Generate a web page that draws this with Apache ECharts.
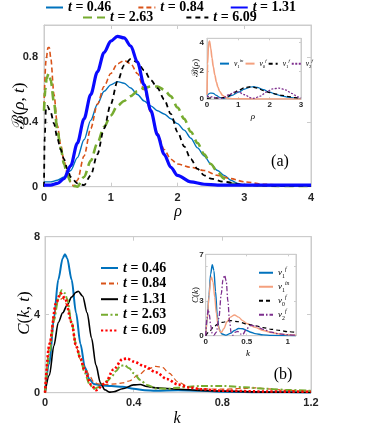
<!DOCTYPE html>
<html><head><meta charset="utf-8">
<script src="https://cdn.jsdelivr.net/npm/echarts@6/dist/echarts.min.js"></script>
<style>html,body{margin:0;padding:0;background:#fff}#c{width:390px;height:428px}</style>
</head><body><div id="c"></div>
<script>
// ---------- Panel (a): B(rho,t) ----------
const aX046 = [0,0.1,0.2,0.3,0.4,0.5,0.6,0.7,0.8,0.9,1.0,1.1,1.2,1.3,1.4,1.5,1.6,1.7,1.8,1.9,2.0,2.1,2.2,2.3,2.4,2.5,2.6,2.7,2.8,2.9,3.0,3.3,3.6,4.0];
const aY046 = [0.03,0.03,0.04,0.06,0.1,0.18,0.29,0.41,0.51,0.59,0.63,0.65,0.64,0.61,0.57,0.53,0.5,0.47,0.45,0.42,0.39,0.35,0.3,0.24,0.19,0.14,0.1,0.07,0.04,0.02,0.01,0.005,0.003,0.002];
const aX084 = [0,0.03,0.06,0.08,0.1,0.15,0.2,0.25,0.3,0.35,0.4,0.45,0.5,0.6,0.7,0.8,0.9,1.0,1.1,1.2,1.3,1.4,1.5,1.6,1.7,1.8,1.9,2.0,2.2,2.4,2.6,2.8,3.0,3.3,3.6,4.0];
const aY084 = [0.5,0.78,0.86,0.86,0.8,0.57,0.38,0.26,0.16,0.08,0.03,0.0,0.04,0.19,0.36,0.51,0.62,0.7,0.76,0.78,0.76,0.7,0.6,0.46,0.33,0.23,0.17,0.14,0.12,0.1,0.07,0.05,0.03,0.015,0.01,0.005];
const aX131 = [0,0.1,0.2,0.3,0.4,0.5,0.6,0.7,0.8,0.9,1.0,1.1,1.2,1.3,1.4,1.5,1.6,1.7,1.8,1.9,2.0,2.2,2.4,2.6,3.0,3.5,4.0];
const aY131 = [0.01,0.01,0.02,0.05,0.13,0.27,0.42,0.57,0.71,0.83,0.9,0.93,0.92,0.87,0.77,0.63,0.47,0.32,0.2,0.12,0.07,0.03,0.015,0.01,0.01,0.01,0.01];
const aX263 = [0,0.02,0.04,0.07,0.1,0.15,0.2,0.25,0.3,0.35,0.4,0.45,0.5,0.6,0.7,0.8,0.9,1.0,1.1,1.2,1.3,1.4,1.5,1.6,1.7,1.8,1.9,2.0,2.1,2.2,2.3,2.4,2.5,2.6,2.7,2.8,3.0,3.5,4.0];
const aY263 = [0.47,0.6,0.67,0.7,0.66,0.52,0.35,0.24,0.14,0.07,0.03,0.005,0.0,0.06,0.16,0.27,0.37,0.44,0.5,0.53,0.56,0.59,0.61,0.62,0.62,0.6,0.56,0.49,0.42,0.34,0.27,0.2,0.14,0.09,0.05,0.02,0.01,0.005,0.005];
const aX609 = [0,0.01,0.03,0.05,0.1,0.15,0.2,0.25,0.3,0.35,0.4,0.5,0.6,0.7,0.8,0.9,1.0,1.1,1.2,1.3,1.4,1.5,1.6,1.7,1.8,1.9,2.0,2.1,2.2,2.3,2.4,2.5,2.7,3.0,3.5,4.0];
const aY609 = [0.0,0.3,0.49,0.5,0.46,0.39,0.3,0.23,0.17,0.11,0.06,0.02,0.01,0.07,0.2,0.36,0.51,0.65,0.75,0.79,0.77,0.72,0.66,0.61,0.54,0.45,0.34,0.25,0.17,0.11,0.07,0.05,0.03,0.01,0.005,0.005];

// inset (a)
const iaX1in = [0,0.1,0.2,0.3,0.4,0.5,0.6,0.8,1.0,1.2,1.4,1.5,1.6,1.8,2.0,2.2,2.4,2.6,2.8,3.0];
const iaY1in = [0.25,0.42,0.4,0.25,0.12,0.05,0.08,0.25,0.48,0.7,0.85,0.87,0.83,0.66,0.48,0.33,0.21,0.13,0.07,0.03];
const iaX0f = [0,0.02,0.05,0.08,0.12,0.16,0.2,0.25,0.3,0.35,0.4,0.5,0.6,0.7,0.8,1.0,1.5,2,2.5,3];
const iaY0f = [0.3,2.5,3.95,4.1,3.6,2.9,2.3,1.7,1.2,0.82,0.55,0.25,0.1,0.04,0.02,0.01,0.005,0.005,0.005,0.005];
const iaX1f = [0,0.2,0.4,0.6,0.8,1.0,1.2,1.4,1.6,1.8,2.0,2.2,2.4,2.6,2.8,3.0];
const iaY1f = [0.05,0.08,0.06,0.12,0.35,0.6,0.8,0.87,0.78,0.6,0.46,0.35,0.25,0.17,0.1,0.05];
const iaX2f = [0,0.15,0.3,0.5,0.7,0.9,1.0,1.2,1.4,1.5,1.7,1.9,2.1,2.3,2.5,2.7,2.9,3.0];
const iaY2f = [0.2,0.15,0.08,0.05,0.3,0.5,0.5,0.3,0.08,0.05,0.2,0.5,0.72,0.77,0.65,0.4,0.15,0.08];

// ---------- Panel (b): C(k,t) ----------
const bX046 = [0,0.02,0.04,0.06,0.08,0.09,0.1,0.12,0.14,0.16,0.18,0.2,0.22,0.25,0.3,0.35,0.4,0.45,0.5,0.6,0.7,0.8,1.0,1.2];
const bY046 = [0,1.5,3.8,5.8,6.9,7.1,6.9,5.8,4.1,2.5,1.3,0.7,0.45,0.38,0.34,0.3,0.2,0.12,0.1,0.12,0.1,0.05,0.02,0.01];
const bX084 = [0,0.02,0.04,0.06,0.08,0.1,0.12,0.14,0.16,0.18,0.2,0.22,0.24,0.28,0.32,0.35,0.38,0.42,0.46,0.5,0.53,0.56,0.6,0.65,0.7,0.8,0.9,0.95,1.0,1.1,1.2];
const bY084 = [0,2.5,4.0,4.7,4.85,4.5,3.5,2.4,1.7,1.3,0.9,0.55,0.45,0.42,0.45,0.5,0.6,0.9,1.2,1.35,1.3,1.0,0.55,0.3,0.2,0.18,0.22,0.25,0.2,0.12,0.08];
const bX131 = [0,0.02,0.04,0.06,0.08,0.1,0.12,0.14,0.15,0.17,0.19,0.21,0.23,0.25,0.27,0.29,0.31,0.35,0.4,0.43,0.46,0.5,0.6,0.7,0.8,1.0,1.2];
const bY131 = [0,0.9,2.4,3.6,4.1,4.5,4.9,5.15,5.2,4.95,4.1,2.8,1.4,0.5,0.15,0.03,0.05,0.2,0.4,0.42,0.32,0.25,0.18,0.12,0.08,0.03,0.01];
const bX263 = [0,0.02,0.04,0.06,0.075,0.09,0.1,0.12,0.14,0.16,0.18,0.2,0.22,0.24,0.26,0.28,0.3,0.32,0.34,0.36,0.38,0.4,0.43,0.46,0.5,0.55,0.6,0.7,0.8,0.9,1.0,1.1,1.2];
const bY263 = [0,2.0,3.7,4.8,5.25,5.1,4.8,3.6,2.5,1.7,1.0,0.45,0.2,0.28,0.45,0.6,0.8,1.1,1.38,1.4,1.25,1.0,0.65,0.4,0.22,0.2,0.26,0.34,0.35,0.28,0.2,0.14,0.1];
const bX609 = [0,0.02,0.05,0.07,0.09,0.12,0.14,0.16,0.18,0.21,0.23,0.27,0.31,0.35,0.37,0.4,0.45,0.5,0.55,0.6,0.65,0.7,0.8,1.0,1.2];
const bY609 = [0,2.5,4.6,5.1,4.85,3.6,2.4,1.75,1.1,0.38,0.13,0.46,1.2,1.72,1.75,1.6,1.35,1.05,0.7,0.42,0.27,0.18,0.1,0.06,0.05];

// inset (b)
const ibX1f = [0,0.02,0.04,0.06,0.08,0.1,0.12,0.14,0.16,0.18,0.2,0.25,0.3,0.35,0.4,0.45,0.5,0.55,0.6,0.7,0.8,1.1];
const ibY1f = [0,1.5,3.5,5.3,6.1,5.6,3.8,1.8,0.7,0.3,0.15,0.05,0.2,0.45,0.62,0.6,0.45,0.3,0.18,0.07,0.03,0];
const ibX1in = [0,0.02,0.04,0.06,0.07,0.09,0.11,0.13,0.15,0.17,0.19,0.22,0.26,0.3,0.35,0.4,0.45,0.5,0.6,0.7,0.8,0.9,1.0,1.1];
const ibY1in = [0,1.5,3.4,4.8,5.05,4.6,3.3,1.9,0.9,0.4,0.28,0.6,1.2,1.6,1.78,1.6,1.3,1.05,0.72,0.45,0.27,0.15,0.08,0.05];
const ibX0f = [0,0.05,0.1,0.15,0.2,0.3,0.4,0.5,0.6,0.7,0.8,0.9,1.0,1.1];
const ibY0f = [0,0.4,0.8,1.0,1.15,1.3,1.2,1.0,0.85,0.7,0.55,0.45,0.35,0.28];
const ibX2f = [0,0.015,0.03,0.045,0.06,0.08,0.1,0.13,0.16,0.19,0.21,0.23,0.25,0.27,0.29,0.31,0.33,0.36,0.39,0.42,0.45,0.5,0.55,0.6,0.7,0.8,0.9,1.0,1.1];
const ibY2f = [0,1.5,2.25,1.8,0.9,0.2,0.05,0.3,1.5,3.6,4.8,5.2,4.7,3.0,1.3,0.25,0.05,0.3,0.38,0.15,0.1,0.6,0.9,0.85,0.55,0.3,0.15,0.08,0.04];

// legend labels
const mainLabels = ['0.46','0.84','1.31','2.63','6.09'];
const insetALabels = [['1','in'],['0','f'],['1','f'],['2','f']];
const insetBLabels = [['1','f'],['1','in'],['0','f'],['2','f']];

const chart = echarts.init(document.getElementById('c'), null, {renderer:'canvas', width:390, height:428});

const GRAY = '#cccccc';
const TXT = '#262626';
const pairs = (xs, ys) => xs.map((x, i) => [x, ys[i]]);
const fmt = v => String(parseFloat((+v).toFixed(2)));

function mk(name, xs, ys, ax, color, width, type, z) {
  return {type:'line', name, xAxisIndex:ax, yAxisIndex:ax, data:pairs(xs, ys),
    symbol:'none', showSymbol:false, smooth:0.3, smoothMonotone:'x',
    lineStyle:{color, width, type: type || 'solid', cap:'butt'}, itemStyle:{color},
    z: z || 2, silent:true, animation:false, emphasis:{disabled:true}};
}

function axes(dim, gi, min, max, interval, show, fs, margin, tickLen) {
  const base = {type:'value', gridIndex:gi, min, max, interval,
    axisLine:{show:true, onZero:false, lineStyle:{color:GRAY, width:1}},
    axisTick:{show:true, inside:true, length:tickLen, lineStyle:{color:GRAY}},
    splitLine:{show:false}};
  const a = Object.assign({}, base, {position: dim === 'x' ? 'bottom' : 'left',
    axisLabel:{show:true, margin, fontSize:fs, fontWeight:'bold', fontFamily:'Liberation Sans, Arial', color:TXT,
      formatter: v => show.indexOf(fmt(v)) >= 0 ? fmt(v) : ''}});
  const b = Object.assign({}, base, {position: dim === 'x' ? 'top' : 'right', axisLabel:{show:false}});
  return [a, b];
}

const xAxis = [
  ...axes('x', 0, 0, 4, 1, ['0','1','2','3','4'], 11, 6, 4),
  ...axes('x', 1, 0, 3, 1, ['0','1','2','3'], 8, 2, 2),
  ...axes('x', 2, 0, 1.2, 0.4, ['0','0.4','0.8','1.2'], 11, 5, 4),
  ...axes('x', 3, 0, 1.1, 0.5, ['0','0.5','1'], 8, 2, 2)
];
const yAxis = [
  ...axes('y', 0, 0, 1, 0.4, ['0','0.4','0.8'], 11, 6, 4),
  ...axes('y', 1, 0, 4.3, 2, ['0','2','4'], 8, 3, 2),
  ...axes('y', 2, 0, 8, 4, ['0','4','8'], 11, 5, 4),
  ...axes('y', 3, 0, 7, 3, ['0','3','7'], 8, 2, 2)
];

const BLUE = '#0072BD', ORANGE = '#D95319', GREEN = '#77AC30', PURPLE = '#7E2F8E', SALMON = '#F4A07E';

const series = [
  mk('a046', aX046, aY046, 0, BLUE, 1.4),
  mk('a084', aX084, aY084, 0, ORANGE, 1.6, [5,3]),
  mk('a263', aX263, aY263, 0, GREEN, 2.6, [9,5]),
  mk('a609', aX609, aY609, 0, '#000000', 1.8, [5,4]),
  mk('a131', aX131, aY131, 0, '#0a0aff', 3.2, 'solid', 3),
  mk('ia1in', iaX1in, iaY1in, 2, BLUE, 1.2),
  mk('ia0f', iaX0f, iaY0f, 2, SALMON, 1.6),
  mk('ia1f', iaX1f, iaY1f, 2, '#000000', 1.3, [4,3]),
  mk('ia2f', iaX2f, iaY2f, 2, PURPLE, 1.3, [2,1.5]),
  mk('b046', bX046, bY046, 4, BLUE, 2),
  mk('b084', bX084, bY084, 4, ORANGE, 1.2, [5,3]),
  mk('b131', bX131, bY131, 4, '#000000', 1.6),
  mk('b263', bX263, bY263, 4, GREEN, 2, [7,2.5,2,2.5]),
  mk('b609', bX609, bY609, 4, '#ff0000', 2.6, [2.2,2.2]),
  mk('ib1f', ibX1f, ibY1f, 6, BLUE, 1.4),
  mk('ib1in', ibX1in, ibY1in, 6, SALMON, 1.4),
  mk('ib0f', ibX0f, ibY0f, 6, '#000000', 1.2, [4,3]),
  mk('ib2f', ibX2f, ibY2f, 6, PURPLE, 1.3, [5,2,1.5,2])
];

const labelMap = {
  a046: mainLabels[0], a084: mainLabels[1], a131: mainLabels[2], a263: mainLabels[3], a609: mainLabels[4],
  b046: mainLabels[0], b084: mainLabels[1], b131: mainLabels[2], b263: mainLabels[3], b609: mainLabels[4]
};
const nuMap = {ia1in: insetALabels[0], ia0f: insetALabels[1], ia1f: insetALabels[2], ia2f: insetALabels[3],
  ib1f: insetBLabels[0], ib1in: insetBLabels[1], ib0f: insetBLabels[2], ib2f: insetBLabels[3]};

const SERIF = 'Liberation Serif, DejaVu Serif, serif';
const mainRich = {i:{fontFamily:SERIF, fontStyle:'italic', fontWeight:'bold', fontSize:14, lineHeight:15, color:'#000'}};
const mainText = {fontFamily:SERIF, fontWeight:'bold', fontSize:14, lineHeight:15, color:'#000', rich:mainRich};
const mainFmt = n => '{i|t} = ' + labelMap[n];

function nuRich(fs) {
  return {
    n:{fontFamily:SERIF, fontStyle:'italic', fontSize:fs, color:'#000', lineHeight:fs*1.5, verticalAlign:'middle'},
    b:{fontFamily:SERIF, fontSize:fs*0.65, color:'#000', lineHeight:fs*1.5, verticalAlign:'bottom'},
    p:{fontFamily:SERIF, fontStyle:'italic', fontSize:fs*0.65, color:'#000', lineHeight:fs*1.5, verticalAlign:'top'}
  };
}
const nuFmt = n => '{n|ν}{b|' + nuMap[n][0] + '}{p|' + nuMap[n][1] + '}';

const noSym = {color:'rgba(0,0,0,0)', borderColor:'rgba(0,0,0,0)', borderWidth:0, opacity:0};
const legend = [
  {data:['a046','a084','a131'], left:45, top:0, orient:'horizontal', itemWidth:17, itemHeight:10, itemGap:26,
   textStyle:mainText, formatter:mainFmt, selectedMode:false, padding:0, itemStyle:noSym},
  {data:['a263','a609'], left:82, top:10, orient:'horizontal', itemWidth:22, itemHeight:10, itemGap:32,
   textStyle:mainText, formatter:mainFmt, selectedMode:false, padding:0, itemStyle:noSym},
  {data:['ia1in','ia0f','ia1f','ia2f'], left:219, top:58, orient:'horizontal', itemWidth:9, itemHeight:8, itemGap:1,
   textStyle:{fontSize:7.5, color:'#000', rich:nuRich(7.5)}, formatter:nuFmt, selectedMode:false, padding:0, itemStyle:noSym},
  {data:['b046','b084','b131','b263','b609'], left:100, top:260.5, orient:'vertical', itemWidth:17, itemHeight:10, itemGap:0.6,
   textStyle:mainText, formatter:mainFmt, selectedMode:false, padding:0, itemStyle:noSym},
  {data:['ib1f','ib1in','ib0f','ib2f'], left:258, top:266, orient:'vertical', itemWidth:14, itemHeight:8, itemGap:0.5,
   textStyle:{fontSize:9, color:'#000', rich:nuRich(9)}, formatter:nuFmt, selectedMode:false, padding:0, itemStyle:noSym}
];

function txt(x, y, rich, content, rot) {
  return {type:'text', x, y, rotation: rot || 0, silent:true,
    style:{text:content, rich, align:'center', verticalAlign:'middle', fill:'#000'}};
}
const mathRich = fs => ({
  s:{fontFamily:'DejaVu Serif, serif', fontSize:fs, fill:'#000', color:'#000'},
  r:{fontFamily:SERIF, fontSize:fs, fill:'#000', color:'#000'},
  i:{fontFamily:SERIF, fontStyle:'italic', fontSize:fs, fill:'#000', color:'#000'}
});

const graphic = [
  txt(178, 212, mathRich(16), '{i|ρ}'),
  txt(20, 106, mathRich(17), '{s|ℬ}{r|(}{i|ρ}{r|, }{i|t}{r|)}', Math.PI/2),
  txt(280, 162, mathRich(16), '{r|(a)}'),
  txt(196, 68, mathRich(9), '{s|ℬ}{r|(}{i|ρ}{r|)}', Math.PI/2),
  txt(253, 117, mathRich(9), '{i|ρ}'),
  txt(177, 419, mathRich(16), '{i|k}'),
  txt(25, 313, mathRich(17), '{i|C}{r|(}{i|k}{r|, }{i|t}{r|)}', Math.PI/2),
  txt(283, 375, mathRich(16), '{r|(b)}'),
  txt(196, 295, mathRich(9), '{i|C}{r|(}{i|k}{r|)}', Math.PI/2),
  txt(248, 354, mathRich(9), '{i|k}')
];

chart.setOption({
  animation:false,
  backgroundColor:'#ffffff',
  grid:[
    {left:44, top:25, width:267, height:161.7, show:true, borderColor:GRAY, borderWidth:1},
    {left:207, top:38.3, width:94, height:60.7, show:true, borderColor:GRAY, borderWidth:1},
    {left:45, top:236.7, width:266, height:156, show:true, borderColor:GRAY, borderWidth:1},
    {left:205.7, top:254.3, width:90.3, height:81.4, show:true, borderColor:GRAY, borderWidth:1}
  ],
  xAxis, yAxis, series, legend, graphic
});
</script></body></html>
